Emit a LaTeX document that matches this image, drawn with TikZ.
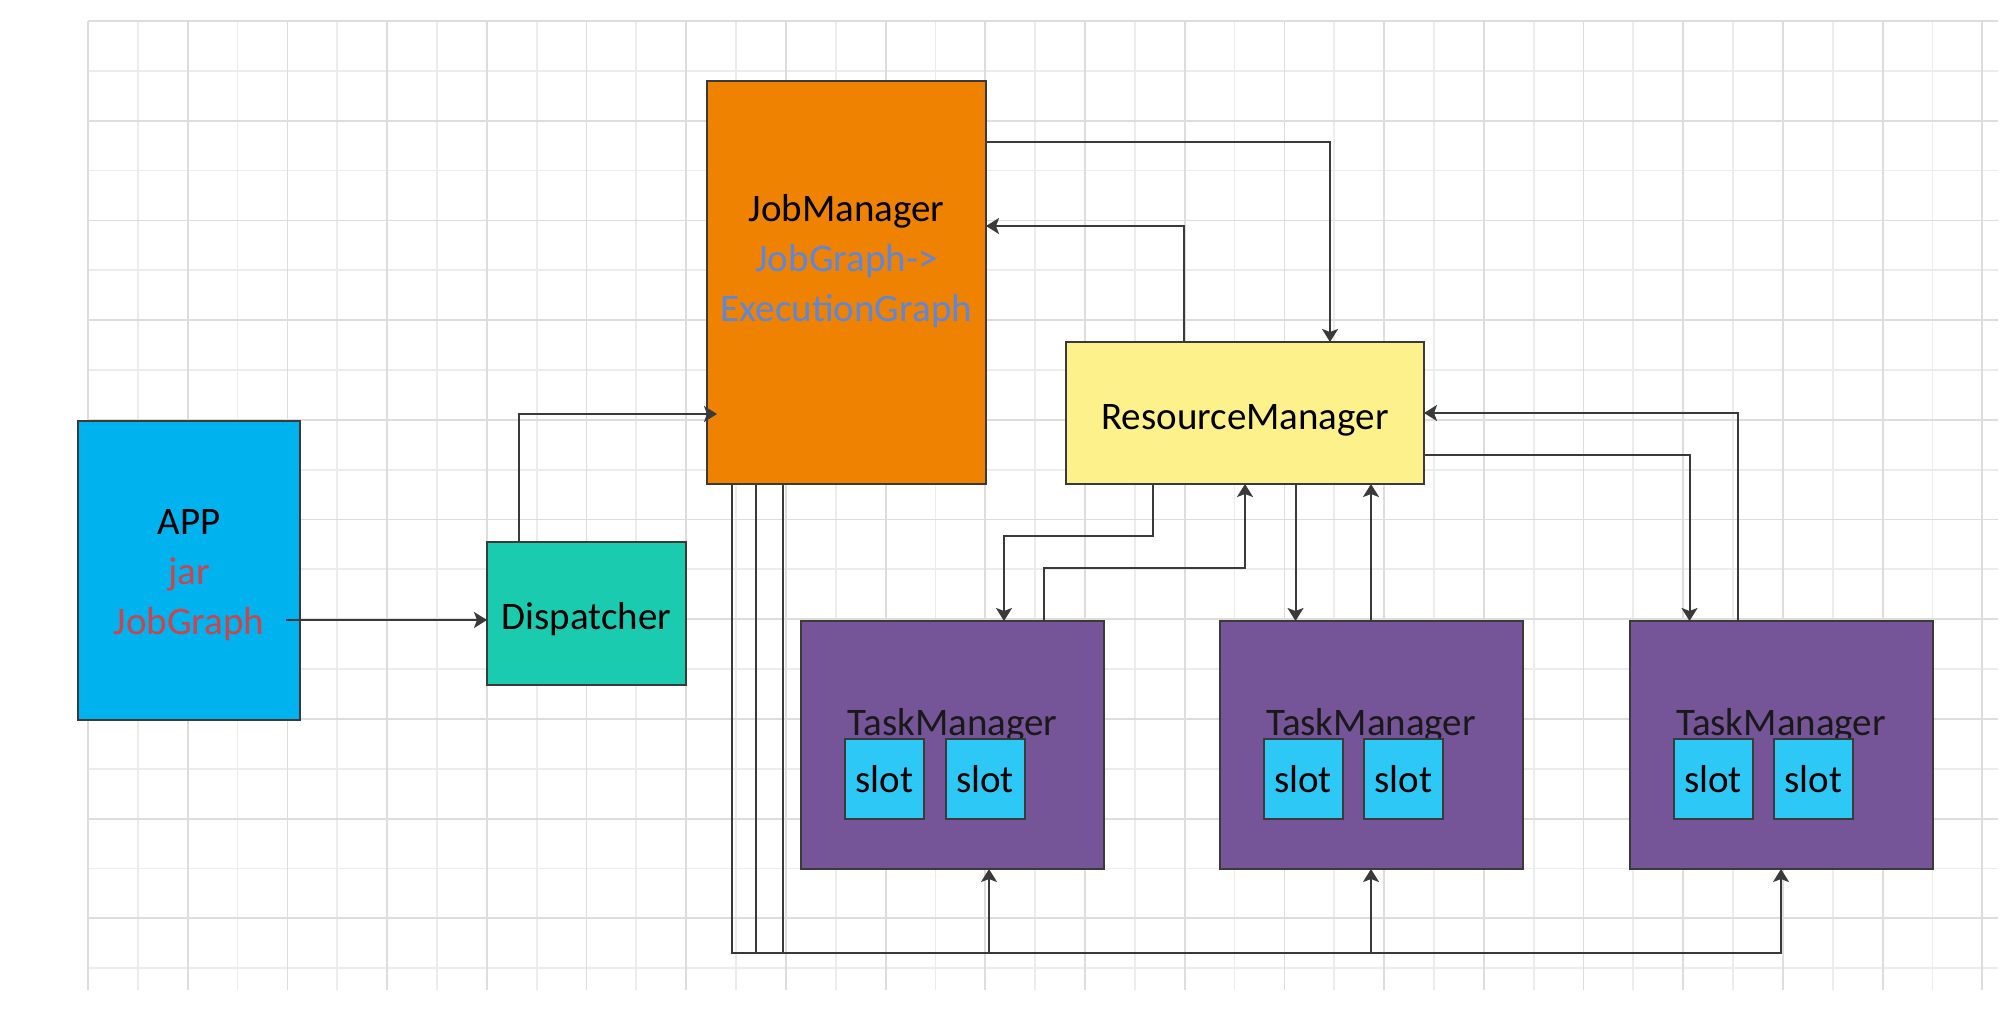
\documentclass[tikz,border=0pt]{standalone}
\usepackage{fontspec}
\setmainfont{Carlito}
\usepackage{tikz}
\newcommand*{\boxfont}{\fontsize{39}{50}\selectfont}
\usetikzlibrary{arrows.meta, positioning}
\definecolor{linegray}{RGB}{58,58,58}
\definecolor{appblue}{RGB}{0,178,238}
\definecolor{dispgreen}{RGB}{26,203,176}
\definecolor{jmorange}{RGB}{239,130,0}
\definecolor{rmyellow}{RGB}{253,241,139}
\definecolor{tmpurple}{RGB}{117,84,151}
\definecolor{slotblue}{RGB}{46,200,246}
\definecolor{appred}{RGB}{205,68,74}
\definecolor{jmtext}{RGB}{92,135,218}
\definecolor{gridmajor}{RGB}{221,221,221}
\definecolor{gridminor}{RGB}{236,236,236}
\tikzstyle{block} = [draw=linegray, line width=2pt, rectangle, inner sep=0pt, outer sep=0pt, font=\boxfont, align=center]
\tikzstyle{app} = [block, fill=appblue, minimum width=222pt, minimum height=299pt]
\tikzstyle{dispatch} = [block, fill=dispgreen, minimum width=199pt, minimum height=143pt, text height=32pt, text depth=0pt]
\tikzstyle{manager} = [block, fill=jmorange, minimum width=279pt, minimum height=403pt]
\tikzstyle{resource} = [block, fill=rmyellow, minimum width=358pt, minimum height=142pt, text height=33pt, text depth=0pt]
\tikzstyle{task} = [block, fill=tmpurple, minimum width=303pt, minimum height=248pt]
\tikzstyle{slotbox} = [block, fill=slotblue, minimum width=79pt, minimum height=80pt]
\tikzstyle{link} = [-{Stealth[length=13pt, width=16pt, inset=3pt]}, line width=2pt, draw=linegray]
\tikzstyle{grid minor} = [line width=1.8pt, draw=gridminor]
\tikzstyle{grid major} = [line width=1.8pt, draw=gridmajor]

\begin{document}
\begin{tikzpicture}[x=1pt, y=-1pt, node distance=20pt]
    \useasboundingbox (0, 0) rectangle (2010, 1012);

    % Background grid.
    \foreach \k in {1, 3, ..., 37} {%
        \draw [grid minor] (88 + 49.85 * \k, 21) -- (88 + 49.85 * \k, 990);
    }
    \foreach \k in {1, 3, ..., 19} {%
        \draw [grid minor] (88, 21 + 49.85 * \k) -- (1998, 21 + 49.85 * \k);
    }
    \foreach \k in {0, 2, ..., 38} {%
        \draw [grid major] (88 + 49.85 * \k, 21) -- (88 + 49.85 * \k, 990);
    }
    \foreach \k in {0, 2, ..., 18} {%
        \draw [grid major] (88, 21 + 49.85 * \k) -- (1998, 21 + 49.85 * \k);
    }

    % Client side.
    \node (app) [app] at (189, 570.5) {\strut APP\\ \textcolor{appred}{jar}\\ \textcolor{appred}{JobGraph}};
    \node (dispatcher) [dispatch] at (586.5, 613.5) {Dispatcher};

    % Masters.
    \node (jm) [manager] at (846.5, 282.5) {JobManager\\ \textcolor{jmtext}{JobGraph->}\\ \textcolor{jmtext}{ExecutionGraph}\\ \mbox{}};
    \node (rm) [resource] at (1245, 413) {ResourceManager};

    % Task managers with two slots each.
    \foreach \j/\x in {1/952.5, 2/1371, 3/1781} {%
        \node (tm \j) [task] at (\x, 745) {};
        \node (tm label \j) [below=114pt of tm \j.north, anchor=base, font=\boxfont, text=black!90] {TaskManager};
        \node (slot \j a) [slotbox, below right=118pt and 44pt of tm \j.north west] {slot};
        \node (slot \j b) [slotbox, right=21.5pt of slot \j a] {slot};
    }

    % Coordinates.
    \node (app out) [coordinate, below=49.5pt of app.east, xshift=-14pt] {};
    \node (disp up) [coordinate, right=31.5pt of dispatcher.north west] {};
    \node (jm in) [coordinate, below=131.5pt of jm.west, xshift=10pt] {};
    \node (jm out) [coordinate, below=60.5pt of jm.north east] {};
    \node (jm back) [coordinate, below=145pt of jm.north east] {};
    \node (rm in) [coordinate, right=264pt of rm.north west] {};
    \node (rm up) [coordinate, right=117.5pt of rm.north west] {};

    % Coordinates between the resource manager and the task managers.
    \node (rm down 1) [coordinate, right=87pt of rm.south west] {};
    \node (rm bend 1) [coordinate, below=51.5pt of rm down 1] {};
    \node (tm in 1) [coordinate, right=203pt of tm 1.north west] {};
    \node (tm up 1) [coordinate, right=242.5pt of tm 1.north west] {};
    \node (tm bend 1) [coordinate, above=53pt of tm up 1] {};
    \node (rm down 2) [coordinate, right=229.5pt of rm.south west] {};
    \node (rm side) [coordinate, below=42pt of rm.east] {};
    \node (tm in 3) [coordinate, right=60pt of tm 3.north west] {};
    \node (tm up 3) [coordinate, right=108pt of tm 3.north west] {};

    % Coordinates of the bus below the task managers.
    \foreach \j/\d in {1/24.5pt, 2/49pt, 3/75.5pt} {%
        \node (jm down \j) [coordinate, right=\d of jm.south west] {};
        \node (bus \j) [coordinate, below=469pt of jm down \j] {};
    }
    \node (tm foot 1) [coordinate, right=188pt of tm 1.south west] {};
    \node (tm foot 2) [coordinate] at (tm 2.south) {};
    \node (tm foot 3) [coordinate] at (tm 3.south) {};

    % Paths.
    \draw [link] (app out) -- (app out -| dispatcher.west);
    \draw [link] (disp up) |- (jm in);
    \draw [link] (jm out) -| (rm in);
    \draw [link] (rm up) |- (jm back);

    % Resource manager and task managers.
    \draw [link] (rm down 1) -- (rm bend 1) -| (tm in 1);
    \draw [link] (tm up 1) -- (tm bend 1) -| (rm.south);
    \draw [link] (rm down 2) -- (rm down 2 |- tm 2.north);
    \draw [link] (tm 2.north) -- (tm 2.north |- rm.south);
    \draw [link] (rm side) -| (tm in 3);
    \draw [link] (tm up 3) |- (rm.east);

    % Job manager to task managers.
    \foreach \j/\k in {1/3, 2/2, 3/1} {%
        \draw [link] (jm down \j) -- (bus \j) -| (tm foot \k);
    }
\end{tikzpicture}
\end{document}
